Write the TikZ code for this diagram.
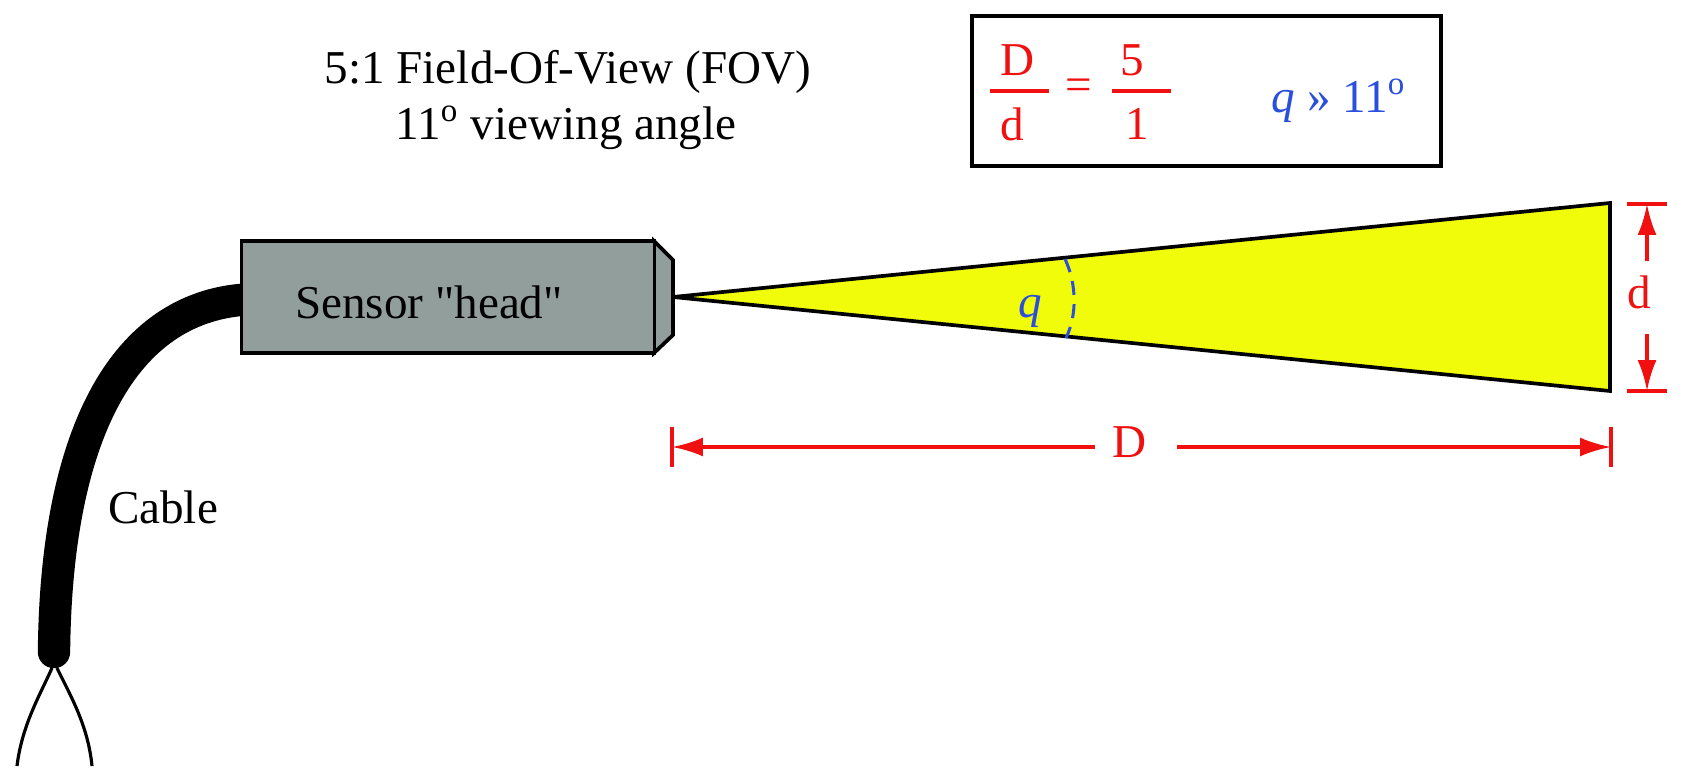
\documentclass[tikz,border=0pt]{standalone}
\usepackage{fontspec}
\setmainfont[Ligatures=TeXOff]{Liberation Serif}
\usetikzlibrary{arrows.meta}
\usetikzlibrary{calc}
\definecolor{headgrey}{HTML}{929E9C}
\definecolor{coneyellow}{HTML}{F0FC0A}
\definecolor{dimred}{HTML}{F01010}
\definecolor{angleblue}{HTML}{2A4FDC}
\tikzset{
  outline/.style={draw=black,line width=1.05pt},
  wire/.style={draw=black,line width=0.9pt},
  dimline/.style={draw=dimred,line width=0.95pt},
  dimarrow/.style={dimline,-{Latex[length=8.8pt,width=5.4pt]}},
  txt/.style={font=\fontsize{13.4}{15}\selectfont,inner sep=0pt},
  redtxt/.style={txt,text=dimred},
  bluetxt/.style={txt,text=angleblue}
}
\begin{document}
\begin{tikzpicture}[x=0.01cm,y=-0.01cm]
\useasboundingbox (0,0) rectangle (1683,783);
% cable and wires
\draw[black,line width=9.2pt,line cap=round] (240,300) .. controls (120,312) and (56,440) .. (54,652);
\coordinate (split1) at (52,668);
\coordinate (split2) at (57,668);
\coordinate (end1) at (17,766);
\coordinate (end2) at (92,766);
\draw[wire] (split1) .. controls (40,695) and (22,725) .. (end1);
\draw[wire] (split2) .. controls (70,695) and (88,725) .. (end2);
\node[txt] (cable) at (163,507) {Cable};
% sensor
\draw[outline,fill=headgrey] (654,241) -- (673,260) -- (673,335) -- (654,353) -- cycle;
\node[outline,fill=headgrey,minimum width=4.13cm,minimum height=1.12cm,inner sep=0pt] (head) at (448,297) {};
\node[txt] (headtext) at (429,302) {Sensor "head"};
% cone
\coordinate (tip) at (673,297);
\coordinate (conetop) at (1610,203);
\coordinate (conebot) at (1610,391);
\draw[outline,fill=coneyellow,line join=miter] (tip) -- (conetop) -- (conebot) -- cycle;
\draw[draw=angleblue,line width=0.85pt,dash pattern=on 4pt off 2.6pt] (1065,259) .. controls (1077,285) and (1077,315) .. (1066,338);
\node[bluetxt] (qcone) at (1030,311) {\textit{q}};
% d dimension
\foreach \y in {204,391}{\draw[dimline] (1627,\y) -- (1667,\y);}
\node[redtxt] (dsmall) at (1639,292) {d};
\coordinate (dup) at (1647,261);
\coordinate (duptip) at (1647,204);
\coordinate (ddown) at (1647,334);
\coordinate (ddowntip) at (1647,391);
\draw[dimarrow] (dup) -- (duptip);
\draw[dimarrow] (ddown) -- (ddowntip);
% D dimension
\foreach \x in {672,1611}{\draw[dimline] (\x,427) -- (\x,467);}
\node[redtxt] (dbig) at (1129,442) {D};
\coordinate (dleft) at (1095,447);
\coordinate (dlefttip) at (672,447);
\coordinate (dright) at (1177,447);
\coordinate (drighttip) at (1611,447);
\draw[dimarrow] (dleft) -- (dlefttip);
\draw[dimarrow] (dright) -- (drighttip);
% title
\node[txt] (title1) at (568,72) {5:1 Field-Of-View (FOV)};
\node[txt] (title2) at (566,128) {11\textsuperscript{o} viewing angle};
% equation box
\node[outline,minimum width=4.69cm,minimum height=1.5cm,inner sep=0pt] (eqbox) at (1206.5,91) {};
\draw[dimline] (990,91) -- (1049,91);
\draw[dimline] (1112,91) -- (1171,91);
\node[redtxt] (fracD) at (1017,60) {D};
\node[redtxt] (fracd) at (1012,124) {d};
\node[redtxt] (eq) at (1079,90) {=};
\node[redtxt] (frac5) at (1132,60) {5};
\node[redtxt] (frac1) at (1137,124) {1};
\node[bluetxt] (qeq) at (1339,101) {\textit{q} » 11\textsuperscript{o}};
\end{tikzpicture}
\end{document}
